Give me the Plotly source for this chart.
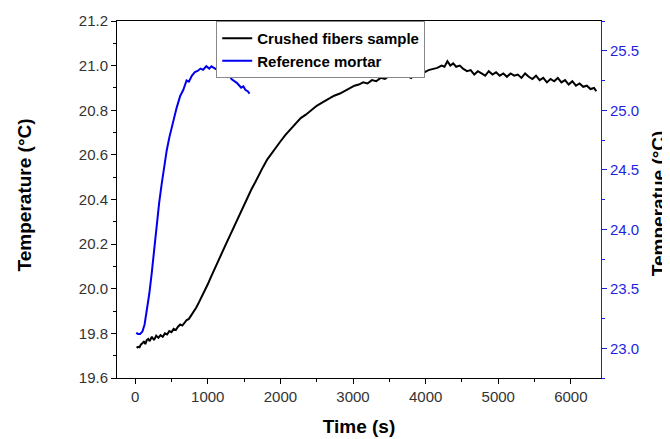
import plotly.graph_objects as go

# Crushed fibers sample (left axis, °C)
t_fib = [20, 40, 60, 80, 100, 120, 140, 160, 180, 200, 230, 260, 290, 320, 350, 380, 410, 440, 470, 500,
         530, 560, 590, 620, 650, 680, 710, 740, 770, 800,
         840, 880, 920, 960, 1000, 1040, 1080, 1120, 1160, 1200, 1250, 1300, 1350, 1400, 1450, 1500, 1550,
         1600, 1650, 1700, 1760, 1820, 1880, 1940, 2000, 2070, 2140, 2210, 2280, 2350, 2420, 2500, 2580,
         2660, 2740, 2820, 2900,
         2960, 3020, 3080, 3140, 3200, 3260, 3320, 3380, 3440, 3500, 3560, 3620, 3680, 3740, 3800, 3860,
         3920, 3980, 4040, 4100, 4160, 4220, 4260, 4300, 4340, 4380, 4420, 4470, 4520, 4570, 4620, 4670,
         4720, 4770, 4820, 4870, 4920, 4970, 5020, 5070, 5120, 5170, 5220, 5270, 5320, 5370, 5420, 5470,
         5520, 5570, 5620, 5670, 5720, 5770, 5820, 5870, 5920, 5970, 6020, 6070, 6120, 6170, 6220, 6270,
         6320, 6350]
temp_fib = [19.735, 19.74, 19.738, 19.75, 19.755, 19.765, 19.752, 19.77, 19.775, 19.765, 19.785, 19.77,
            19.79, 19.78, 19.792, 19.785, 19.80, 19.795, 19.81, 19.805, 19.82, 19.815, 19.83, 19.84, 19.835,
            19.85, 19.86, 19.865, 19.88, 19.89,
            19.915, 19.94, 19.965, 19.99, 20.02, 20.05, 20.08, 20.105, 20.135, 20.165, 20.20, 20.235, 20.27,
            20.31, 20.345, 20.38, 20.41, 20.445, 20.475, 20.51, 20.545, 20.58, 20.605, 20.635, 20.66, 20.69,
            20.715, 20.74, 20.765, 20.78, 20.80, 20.82, 20.835, 20.85, 20.865, 20.875, 20.89,
            20.90, 20.91, 20.915, 20.925, 20.92, 20.935, 20.93, 20.945, 20.94, 20.955, 20.95, 20.965, 20.975,
            20.955, 20.945, 20.965, 20.975, 20.97, 20.98, 20.985, 20.99, 21.0, 20.995, 21.02, 21.0, 21.01,
            20.995, 21.0, 20.985, 20.975, 20.98, 20.96, 20.975, 20.965, 20.955, 20.975, 20.96, 20.97, 20.955,
            20.965, 20.95, 20.965, 20.955, 20.96, 20.945, 20.965, 20.95, 20.94, 20.955, 20.935, 20.945,
            20.925, 20.94, 20.93, 20.945, 20.925, 20.935, 20.915, 20.93, 20.91, 20.92, 20.905, 20.91, 20.895,
            20.9, 20.885]

# Reference mortar (right axis, °C)
t_ref = [14, 40, 68, 100, 130, 160, 195, 228, 262, 297, 330, 365, 400, 434, 470, 502, 540, 571, 620, 662,
         708, 740, 780, 822, 860, 900, 936, 980, 1020, 1050, 1073, 1100, 1140, 1170, 1210, 1240, 1270, 1300,
         1330, 1360, 1400, 1430, 1460, 1490, 1520, 1550, 1575]
temp_ref = [23.13, 23.12, 23.12, 23.14, 23.20, 23.31, 23.46, 23.63, 23.84, 24.05, 24.22, 24.38, 24.53, 24.66,
            24.77, 24.85, 24.95, 25.02, 25.12, 25.17, 25.25, 25.24, 25.29, 25.32, 25.33, 25.35, 25.34, 25.37,
            25.35, 25.37, 25.36, 25.35, 25.34, 25.33, 25.31, 25.30, 25.28, 25.29, 25.26, 25.25, 25.23, 25.21,
            25.19, 25.2, 25.17, 25.16, 25.14]

x_ticks = [0, 1000, 2000, 3000, 4000, 5000, 6000]
left_ticks = [19.6, 19.8, 20.0, 20.2, 20.4, 20.6, 20.8, 21.0, 21.2]
right_ticks = [23.0, 23.5, 24.0, 24.5, 25.0, 25.5]

FONT = "Liberation Sans, Arial, sans-serif"
BLUE = "#1f1fe0"
TITLE_FONT = dict(family=FONT, size=19, color="black", weight="bold")

fig = go.Figure()
fig.add_trace(go.Scatter(x=t_fib, y=temp_fib, mode="lines", name="Crushed fibers sample",
                         line=dict(color="black", width=2)))
fig.add_trace(go.Scatter(x=t_ref, y=temp_ref, mode="lines", name="Reference mortar", yaxis="y2",
                         line=dict(color="#0000ee", width=2)))

# the page body has an 8px margin, so the figure is drawn 8px smaller and shifted
fig.update_layout(
    width=662, height=431,
    margin=dict(l=109, r=69, t=13, b=61, autoexpand=False),
    paper_bgcolor="white", plot_bgcolor="white",
    font=dict(family=FONT, size=15, color="#333333"),
    showlegend=True,
    legend=dict(x=0.205, y=1.0, xanchor="left", yanchor="top",
                bordercolor="#888888", borderwidth=1, bgcolor="white",
                font=dict(family=FONT, size=15, color="black", weight="bold"),
                tracegroupgap=0, itemwidth=30),
    xaxis=dict(range=[-250, 6415], tickvals=x_ticks, showgrid=False, zeroline=False, automargin=False,
               showline=True, linecolor="black", linewidth=1, mirror=True,
               ticks="outside", ticklen=5, tickcolor="black",
               minor=dict(dtick=500, tick0=0, ticks="outside", ticklen=3, tickcolor="black"),
               title=dict(text="Time (s)", font=TITLE_FONT, standoff=15)),
    yaxis=dict(range=[19.6, 21.2], tickvals=left_ticks, ticktext=[f"{v:.1f}" for v in left_ticks],
               automargin=False,
               showgrid=False, zeroline=False, showline=True, linecolor="black", linewidth=1,
               ticks="outside", ticklen=5, tickcolor="black",
               minor=dict(dtick=0.1, tick0=19.6, ticks="outside", ticklen=3, tickcolor="black")),
    yaxis2=dict(range=[22.75, 25.75], tickvals=right_ticks, ticktext=[f"{v:.1f}" for v in right_ticks],
                overlaying="y", side="right", showgrid=False, zeroline=False, automargin=False,
                showline=True, linecolor=BLUE, linewidth=1,
                ticks="outside", ticklen=5, tickcolor=BLUE, tickfont=dict(color=BLUE),
                minor=dict(dtick=0.25, tick0=22.75, ticks="outside", ticklen=3, tickcolor=BLUE)),
    annotations=[
        dict(text="Temperature (°C)", xref="paper", yref="paper", x=-0.191, y=0.513,
             xanchor="center", yanchor="middle", textangle=-90, showarrow=False, font=TITLE_FONT),
        dict(text="Temperatue (°C)", xref="paper", yref="paper", x=1.118, y=0.49,
             xanchor="center", yanchor="middle", textangle=-90, showarrow=False, font=TITLE_FONT),
    ],
)

fig.write_html("out.html")
